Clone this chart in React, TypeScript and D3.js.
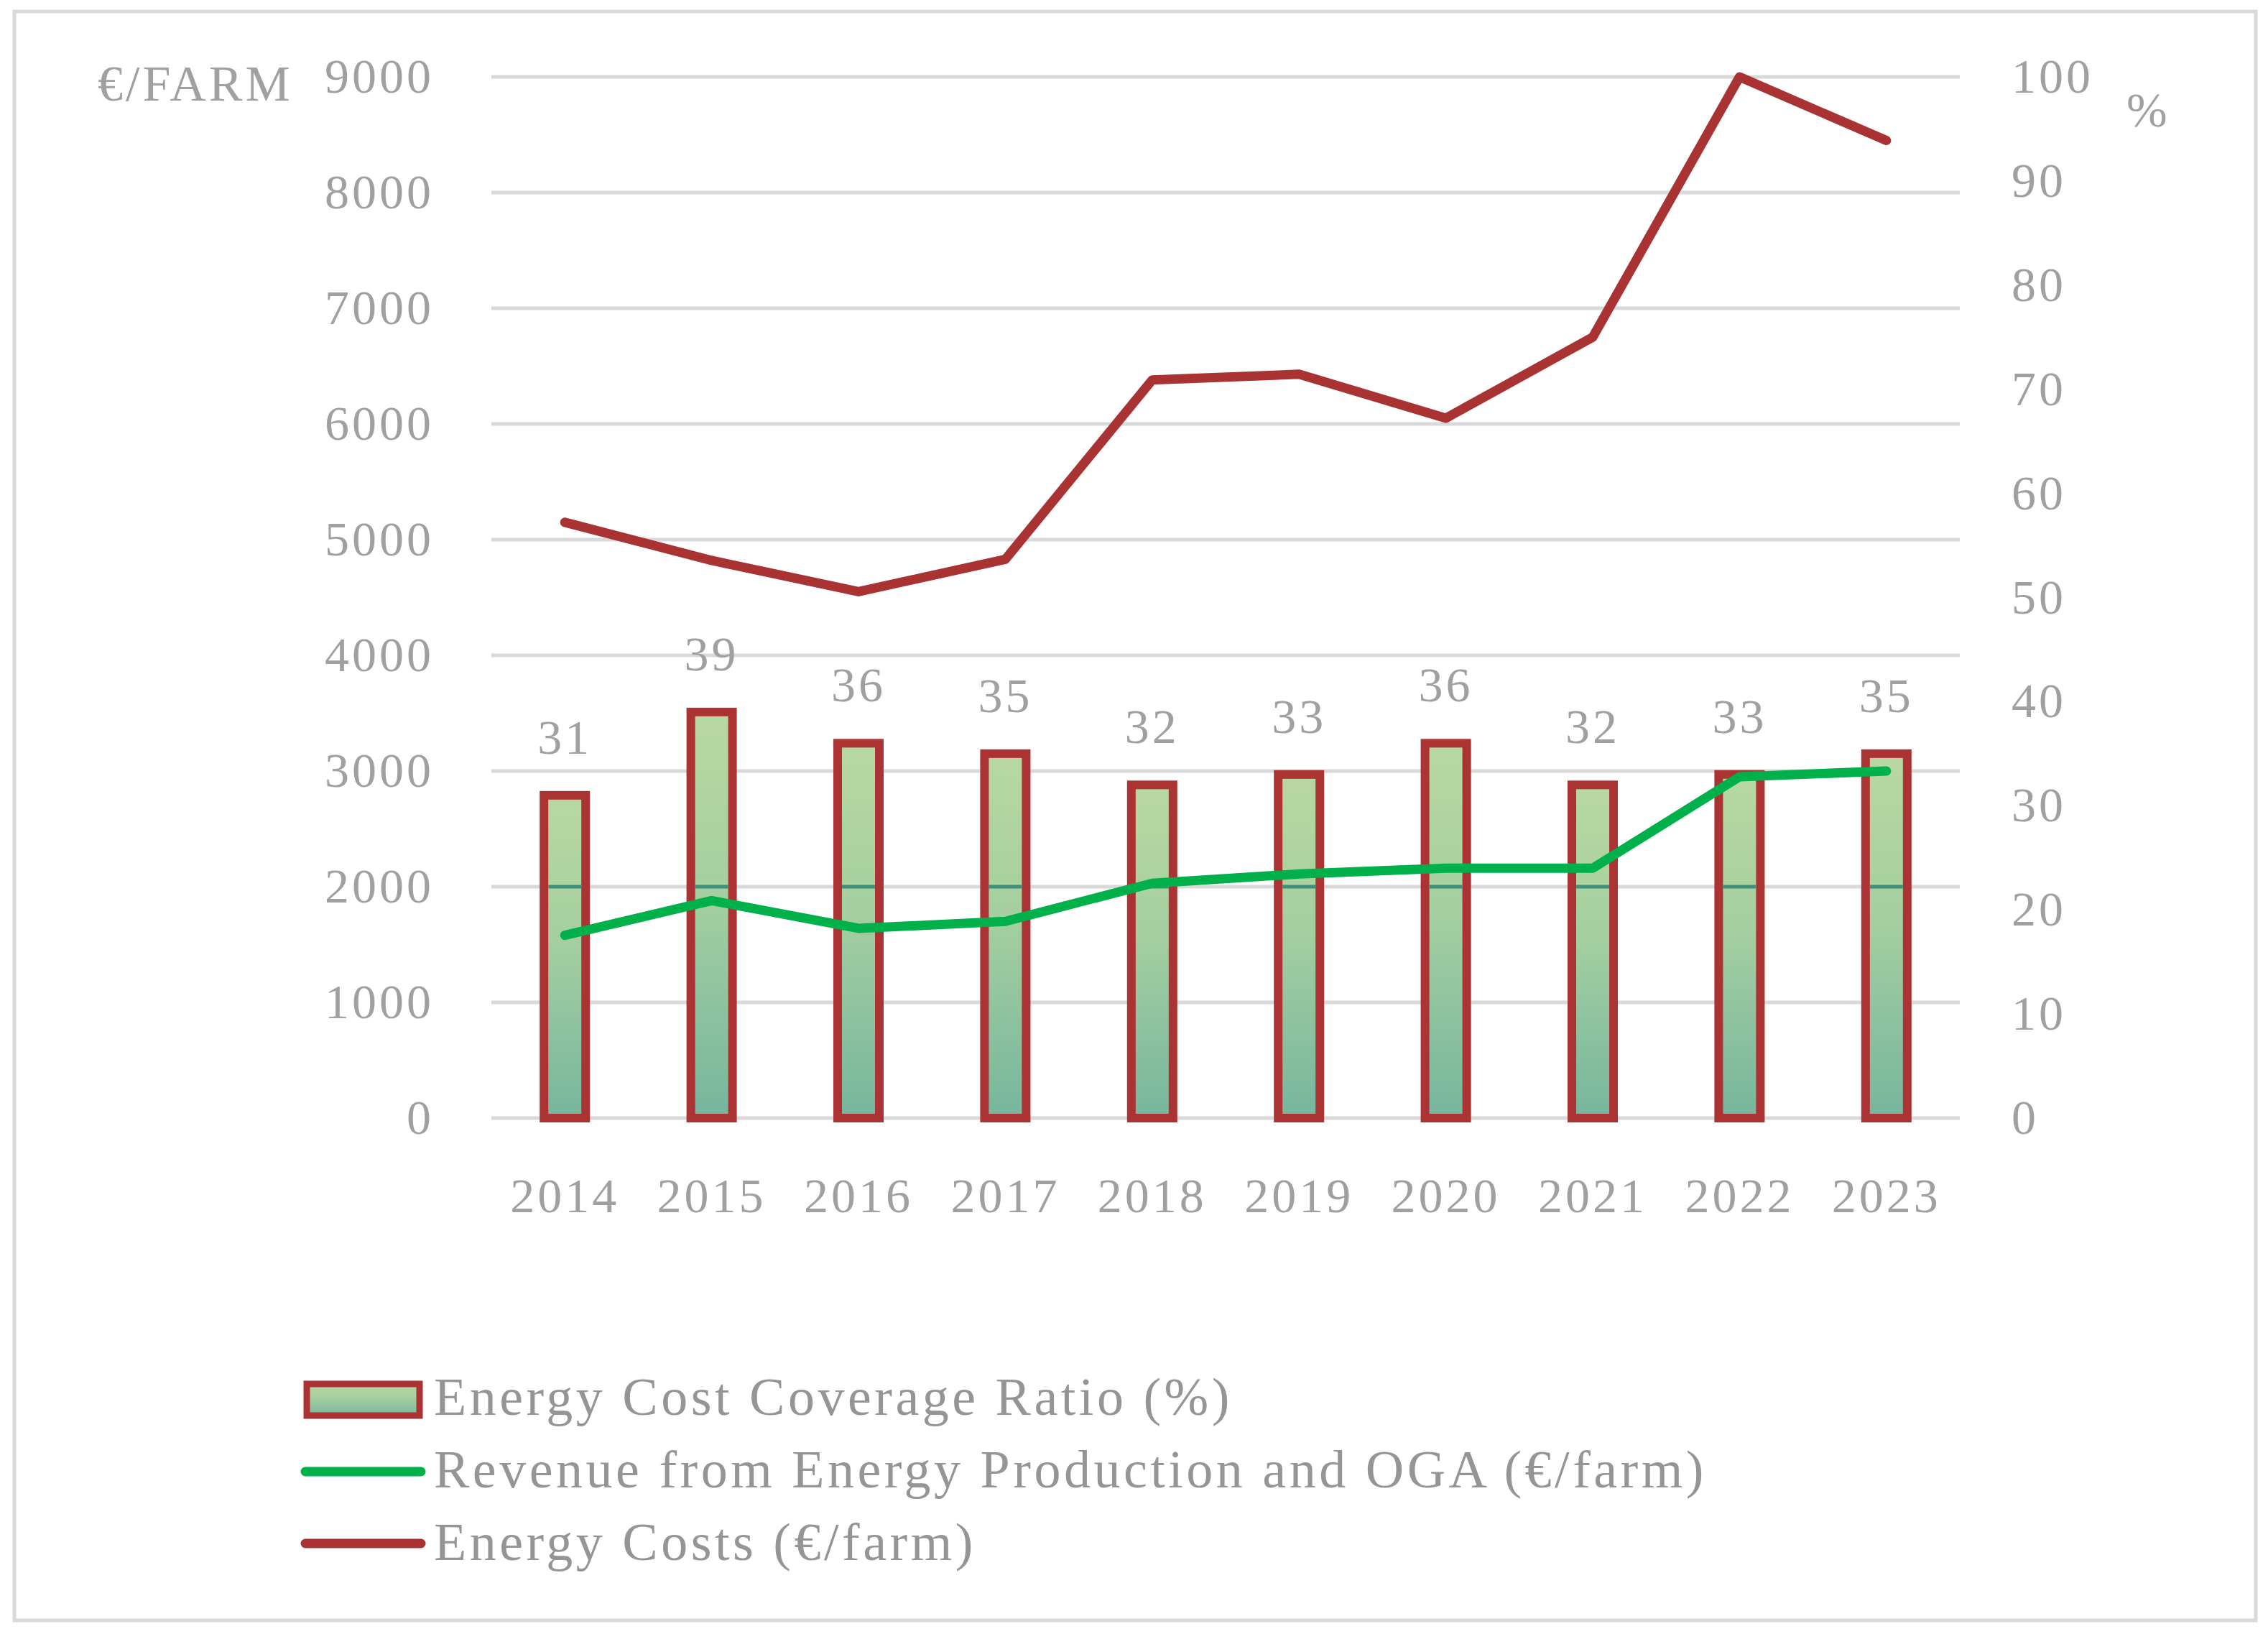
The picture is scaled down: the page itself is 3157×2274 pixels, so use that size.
import React from "react";
import * as d3 from "d3";

const years = ["2014","2015","2016","2017","2018","2019","2020","2021","2022","2023"];
const coverage = [31,39,36,35,32,33,36,32,33,35];
const revenue = [1580,1880,1640,1700,2030,2110,2160,2160,2950,3000];
const costs = [5150,4820,4550,4830,6380,6430,6050,6750,9000,8450];
const leftTicks = [0,1000,2000,3000,4000,5000,6000,7000,8000,9000];
const rightTicks = [0,10,20,30,40,50,60,70,80,90,100];
const legendItems = ["Energy Cost Coverage Ratio (%)","Revenue from Energy Production and OGA (€/farm)","Energy Costs (€/farm)"];

const W = 3157, H = 2274;
const font = "'Liberation Serif', 'DejaVu Serif', serif";

export default function App() {
  const x = d3.scaleBand().domain(years).range([684, 2728]);
  const yL = d3.scaleLinear().domain([0, 9000]).range([1556, 107]);
  const yR = d3.scaleLinear().domain([0, 100]).range([1556, 107]);
  const cx = (y: string) => (x(y) as number) + x.bandwidth() / 2;
  const line = d3.line<number>().x((_, i) => cx(years[i])).y(d => yL(d));
  const bw = 58;
  const ls = 4;
  return (
    <svg width={W} height={H} style={{ position: "absolute", left: 0, top: 0, background: "#fff" }}>
      <defs>
        <linearGradient id="bg" x1="0" y1="0" x2="0" y2="1">
          <stop offset="0" stopColor="#b8d8a2" />
          <stop offset="0.45" stopColor="#a5cfa0" />
          <stop offset="1" stopColor="#76b69d" />
        </linearGradient>
      </defs>
      <rect x={20} y={16} width={3120} height={2239} fill="none" stroke="#d9d9d9" strokeWidth={5} />
      {leftTicks.map(t => (
        <line key={t} x1={684} x2={2728} y1={yL(t)} y2={yL(t)} stroke="#d9d9d9" strokeWidth={5} />
      ))}
      {leftTicks.map(t => (
        <text key={t} x={604} y={yL(t) + 22} textAnchor="end" fontFamily={font} fontSize={68} letterSpacing={ls} fill="#a0a0a0">{t}</text>
      ))}
      {rightTicks.map(t => (
        <text key={t} x={2800} y={yR(t) + 22} fontFamily={font} fontSize={68} letterSpacing={ls} fill="#a0a0a0">{t}</text>
      ))}
      <text x={136} y={140} fontFamily={font} fontSize={70} letterSpacing={ls} fill="#a0a0a0">€/FARM</text>
      <text x={2960} y={176} fontFamily={font} fontSize={68} fill="#a0a0a0">%</text>
      {years.map((y, i) => (
        <g key={y}>
          <rect x={cx(y) - bw / 2} y={yR(coverage[i])} width={bw} height={1556 - yR(coverage[i])}
            fill="url(#bg)" stroke="#ab3333" strokeWidth={12} />
          <line x1={cx(y) - bw / 2 + 6} x2={cx(y) + bw / 2 - 6} y1={yL(2000)} y2={yL(2000)} stroke="#3f8f7a" strokeWidth={5} />
          <text x={cx(y)} y={yR(coverage[i]) - 58} textAnchor="middle" fontFamily={font} fontSize={68} letterSpacing={ls} fill="#a0a0a0">{coverage[i]}</text>
          <text x={cx(y)} y={1687} textAnchor="middle" fontFamily={font} fontSize={68} letterSpacing={ls} fill="#a0a0a0">{y}</text>
        </g>
      ))}
      <path d={line(revenue) || ""} fill="none" stroke="#00b04a" strokeWidth={13} strokeLinecap="round" strokeLinejoin="round" />
      <path d={line(costs) || ""} fill="none" stroke="#a93232" strokeWidth={13} strokeLinecap="round" strokeLinejoin="round" />
      <rect x={427} y={1926} width={157} height={44} fill="url(#bg)" stroke="#ab3333" strokeWidth={9} />
      <line x1={425} x2={586} y1={2048} y2={2048} stroke="#00b04a" strokeWidth={13} strokeLinecap="round" />
      <line x1={425} x2={586} y1={2148} y2={2148} stroke="#a93232" strokeWidth={13} strokeLinecap="round" />
      {legendItems.map((t, i) => (
        <text key={t} x={604} y={1969 + i * 101} fontFamily={font} fontSize={74} letterSpacing={4.5} fill="#959595">{t}</text>
      ))}
    </svg>
  );
}
